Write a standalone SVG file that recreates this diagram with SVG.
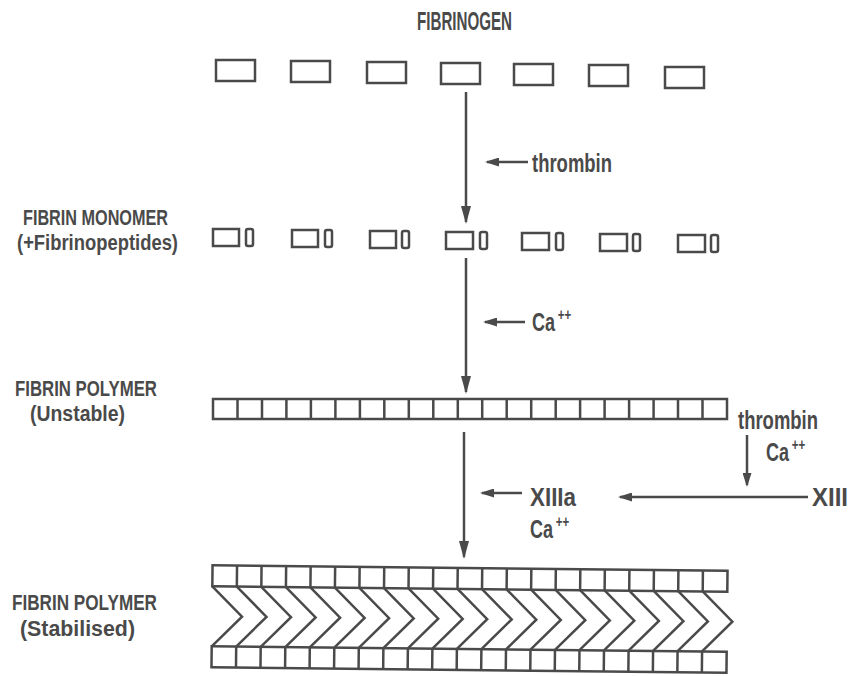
<svg xmlns="http://www.w3.org/2000/svg" width="855" height="676" viewBox="0 0 855 676">
<defs>
<style>
.ln{stroke:#4a4a4a;stroke-width:2.5;fill:none}
.bx{stroke:#4a4a4a;stroke-width:2.5;fill:none}
.t{font-family:"Liberation Sans",Arial,sans-serif;font-weight:bold;font-size:25px;fill:#4a4a4a}
.lb{font-size:22px}
.sup{font-size:16px}
</style>
<marker id="big" markerUnits="userSpaceOnUse" viewBox="0 0 18 10" markerWidth="18" markerHeight="10" refX="16" refY="5" orient="auto">
<path d="M0,0 L18,5 L0,10 Z" fill="#4a4a4a"/>
</marker>
<marker id="small" markerUnits="userSpaceOnUse" viewBox="0 0 14 9" markerWidth="14" markerHeight="9" refX="12" refY="4.5" orient="auto">
<path d="M0,0 L14,4.5 L0,9 Z" fill="#4a4a4a"/>
</marker>
</defs>
<rect width="855" height="676" fill="#ffffff"/>

<g id="fibrinogen">
<text class="t" x="417" y="30" textLength="95" lengthAdjust="spacingAndGlyphs">FIBRINOGEN</text>
<rect class="bx" x="216" y="60" width="39" height="21"/>
<rect class="bx" x="291" y="61" width="39" height="21"/>
<rect class="bx" x="367" y="62" width="39" height="21"/>
<rect class="bx" x="441" y="63" width="39" height="21"/>
<rect class="bx" x="514" y="64" width="39" height="21"/>
<rect class="bx" x="589" y="65" width="39" height="21"/>
<rect class="bx" x="665" y="67" width="39" height="21"/>
</g>

<g id="fibrin-monomer">
<text class="t lb" x="23" y="225" textLength="145" lengthAdjust="spacingAndGlyphs">FIBRIN MONOMER</text>
<text class="t lb" x="17" y="250" textLength="161" lengthAdjust="spacingAndGlyphs">(+Fibrinopeptides)</text>
<g>
<rect class="bx" x="213" y="229" width="26" height="17"/><rect class="bx" x="246" y="229" width="7" height="17" rx="2"/>
<rect class="bx" x="292" y="230" width="26" height="17"/><rect class="bx" x="325" y="230" width="7" height="17" rx="2"/>
<rect class="bx" x="370" y="231" width="26" height="17"/><rect class="bx" x="402" y="231" width="7" height="17" rx="2"/>
<rect class="bx" x="446" y="232" width="27" height="17"/><rect class="bx" x="480" y="232" width="7" height="17" rx="2"/>
<rect class="bx" x="522" y="233" width="27" height="17"/><rect class="bx" x="556" y="233" width="7" height="17" rx="2"/>
<rect class="bx" x="600" y="234" width="27" height="17"/><rect class="bx" x="633" y="234" width="7" height="17" rx="2"/>
<rect class="bx" x="678" y="235" width="27" height="17"/><rect class="bx" x="711" y="235" width="7" height="17" rx="2"/>
</g>
</g>

<g id="fibrin-polymer-unstable">
<text class="t lb" x="15" y="396" textLength="142" lengthAdjust="spacingAndGlyphs">FIBRIN POLYMER</text>
<text class="t lb" x="30" y="421" textLength="95" lengthAdjust="spacingAndGlyphs">(Unstable)</text>
<rect class="bx" x="213" y="399" width="514" height="20"/>
<path class="ln" d="M237.5,399V419M262,399V419M286.4,399V419M310.9,399V419M335.4,399V419M359.9,399V419M384.3,399V419M408.8,399V419M433.3,399V419M457.8,399V419M482.2,399V419M506.7,399V419M531.2,399V419M555.7,399V419M580.1,399V419M604.6,399V419M629.1,399V419M653.6,399V419M678,399V419M702.5,399V419"/>
</g>

<g id="fibrin-polymer-stabilised">
<text class="t lb" x="12" y="610" textLength="145" lengthAdjust="spacingAndGlyphs">FIBRIN POLYMER</text>
<text class="t lb" x="20" y="636" textLength="115" lengthAdjust="spacingAndGlyphs">(Stabilised)</text>
<g transform="rotate(0.6 470 619)">
<rect class="bx" x="212" y="568" width="515" height="21"/>
<rect class="bx" x="212" y="649" width="515" height="21"/>
<path class="ln" d="M236.5,568V589M261,568V589M285.6,568V589M310.1,568V589M334.6,568V589M359.1,568V589M383.7,568V589M408.2,568V589M432.7,568V589M457.2,568V589M481.7,568V589M506.3,568V589M530.8,568V589M555.3,568V589M579.8,568V589M604.3,568V589M628.9,568V589M653.4,568V589M677.9,568V589M702.4,568V589"/>
<path class="ln" d="M236.5,649V670M261,649V670M285.6,649V670M310.1,649V670M334.6,649V670M359.1,649V670M383.7,649V670M408.2,649V670M432.7,649V670M457.2,649V670M481.7,649V670M506.3,649V670M530.8,649V670M555.3,649V670M579.8,649V670M604.3,649V670M628.9,649V670M653.4,649V670M677.9,649V670M702.4,649V670"/>
<path class="ln" stroke-linejoin="miter" d="M212,589L242,619L212,649M236.5,589L266.5,619L236.5,649M261,589L291,619L261,649M285.6,589L315.6,619L285.6,649M310.1,589L340.1,619L310.1,649M334.6,589L364.6,619L334.6,649M359.1,589L389.1,619L359.1,649M383.7,589L413.7,619L383.7,649M408.2,589L438.2,619L408.2,649M432.7,589L462.7,619L432.7,649M457.2,589L487.2,619L457.2,649M481.7,589L511.7,619L481.7,649M506.3,589L536.3,619L506.3,649M530.8,589L560.8,619L530.8,649M555.3,589L585.3,619L555.3,649M579.8,589L609.8,619L579.8,649M604.3,589L634.3,619L604.3,649M628.9,589L658.9,619L628.9,649M653.4,589L683.4,619L653.4,649M677.9,589L707.9,619L677.9,649M702.4,589L732.4,619L702.4,649"/>
</g>
</g>

<g id="labels">
<text class="t" x="532" y="172" textLength="80" lengthAdjust="spacingAndGlyphs">thrombin</text>
<text class="t" transform="translate(532,331) scale(0.72,1)">Ca<tspan class="sup" dx="4" dy="-11">++</tspan></text>
<text class="t" x="738" y="429" textLength="80" lengthAdjust="spacingAndGlyphs">thrombin</text>
<text class="t" transform="translate(766,461) scale(0.72,1)">Ca<tspan class="sup" dx="4" dy="-11">++</tspan></text>
<text class="t" x="812" y="506" textLength="36" lengthAdjust="spacingAndGlyphs">XIII</text>
<text class="t" x="530" y="506" textLength="46" lengthAdjust="spacingAndGlyphs">XIIIa</text>
<text class="t" transform="translate(530,538) scale(0.72,1)">Ca<tspan class="sup" dx="4" dy="-11">++</tspan></text>
</g>

<g id="connectors">
<line class="ln" x1="466" y1="92" x2="466" y2="222" marker-end="url(#big)"/>
<line class="ln" x1="466" y1="258" x2="466" y2="392" marker-end="url(#big)"/>
<line class="ln" x1="464" y1="432" x2="464" y2="557" marker-end="url(#big)"/>
<line class="ln" x1="528" y1="162" x2="487" y2="162" marker-end="url(#small)"/>
<line class="ln" x1="525" y1="322" x2="485" y2="322" marker-end="url(#small)"/>
<line class="ln" x1="522" y1="493" x2="482" y2="493" marker-end="url(#small)"/>
<line class="ln" x1="808" y1="497" x2="620" y2="497" marker-end="url(#small)"/>
<line class="ln" x1="747" y1="435" x2="747" y2="485" marker-end="url(#small)"/>
</g>
</svg>
